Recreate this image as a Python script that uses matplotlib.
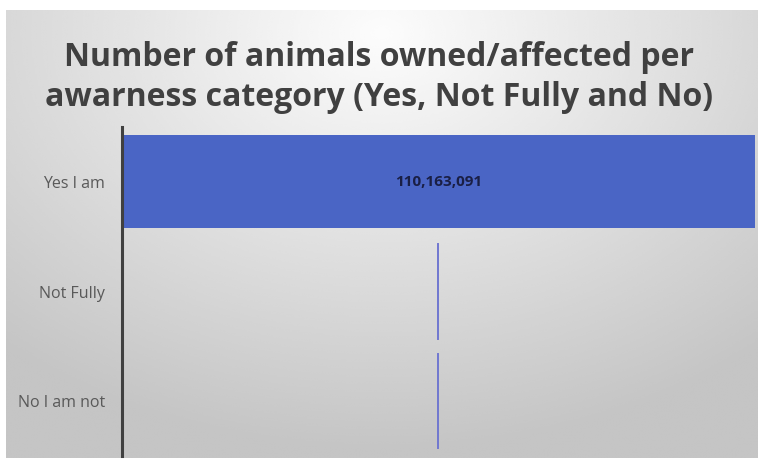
import numpy as np
import matplotlib.pyplot as plt

categories = ["Yes I am", "Not Fully", "No I am not"]
values = [110163091, 0, 0]

W, H = 758, 459
fig = plt.figure(figsize=(W / 100, H / 100), dpi=100)
fig.patch.set_facecolor("white")

# gray gradient panel behind the chart (lighter at top centre)
bg = fig.add_axes([6 / W, 1 / H, 752 / W, 448 / H], zorder=0)
yy, xx = np.mgrid[0:1:300j, 0:1:500j]
d = np.sqrt(((xx - 0.5) * 1.1) ** 2 + ((yy - 0.05) * 0.9) ** 2)
shade = np.clip(0.99 - 0.26 * d, 0.77, 1.0)
bg.imshow(shade, cmap="gray", vmin=0, vmax=1, aspect="auto",
          extent=[0, 1, 1, 0], interpolation="bicubic")
bg.axis("off")

fig.text(0.5, (H - 57) / H, "Number of animals owned/affected per",
         ha="center", va="center", fontsize=23, fontweight="bold",
         family="Open Sans", color="#404040")
fig.text(0.5, (H - 98) / H, "awarness category (Yes, Not Fully and No)",
         ha="center", va="center", fontsize=23, fontweight="bold",
         family="Open Sans", color="#404040")

ax = fig.add_axes([122 / W, 3 / H, 633 / W, 329 / H], zorder=1)
ax.patch.set_alpha(0)
y = np.arange(len(categories))
ax.barh(y, values, height=0.85, color="#4A65C5", zorder=2)
ax.set_xlim(0, max(values))
ax.set_ylim(len(categories) - 0.5, -0.5)

mid = sum(ax.get_xlim()) / 2
for i, v in enumerate(values):
    if v > 0:
        ax.text(mid, i, f"{v:,}", ha="center", va="center", fontsize=11,
                fontweight="bold", color="#1a1f45", family="Open Sans")
    else:
        ax.plot([mid, mid], [i - 0.43, i + 0.43], color="#7077d0", lw=1.4,
                zorder=3)

ax.set_yticks(y)
ax.set_yticklabels(categories, fontsize=11.5, color="#595959", family="Open Sans")
ax.tick_params(axis="y", length=0, pad=12)
ax.set_xticks([])
for s in ["top", "right", "bottom"]:
    ax.spines[s].set_visible(False)
ax.spines["left"].set_color("#404040")
ax.spines["left"].set_linewidth(2.2)

fig.savefig("out.png", dpi=100)
